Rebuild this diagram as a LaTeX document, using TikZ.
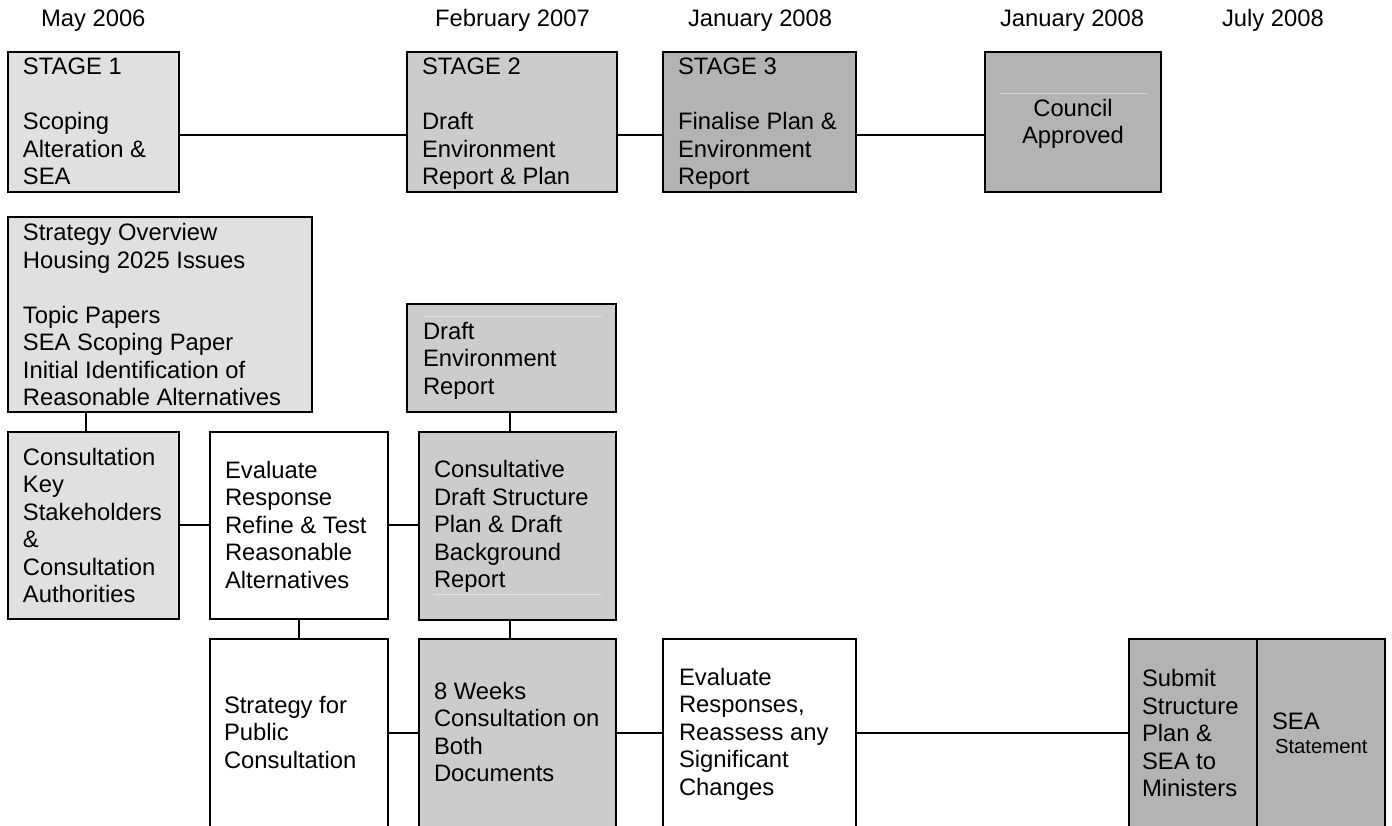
\documentclass[tikz,border=0pt]{standalone}
\usepackage{fontspec}
\setmainfont{Liberation Sans}
\definecolor{gA}{HTML}{E0E0E0}
\definecolor{gB}{HTML}{CCCCCC}
\definecolor{gC}{HTML}{B3B3B3}
\newcommand{\fl}{\rule{0pt}{20pt}}
\newcommand{\mkbox}[6]{\node[box,fill=#6,minimum width={#4-#2},minimum height={#5-#3}] (#1) at (#2,#3) {};}
\tikzset{
  box/.style={draw=black, line width=2pt, rectangle, inner sep=0pt, outer sep=0pt, anchor=north west},
  txt/.style={align=left, inner sep=0pt, outer sep=0pt, anchor=north west, font=\fontsize{23.8}{27.5}\selectfont},
  datetxt/.style={inner sep=0pt, outer sep=0pt, anchor=base west, font=\fontsize{23.8}{27.5}\selectfont},
  conn/.style={line width=2pt, line cap=rect},
  faint/.style={line width=0.8pt},
}
\begin{document}
\begin{tikzpicture}[x=1pt,y=-1pt]
\useasboundingbox (0,0) rectangle (1392,826);
\clip (0,0) rectangle (1392,826);
\fill[white] (0,0) rectangle (1392,826);

% dates
\node[datetxt] (d1) at (41,26.7) {May 2006};
\node[datetxt] (d2) at (435,26.7) {February 2007};
\node[datetxt] (d3) at (688,26.7) {January 2008};
\node[datetxt] (d4) at (1000,26.7) {January 2008};
\node[datetxt] (d5) at (1222,26.7) {July 2008};

% reference coordinates for connector lines
\coordinate (yTop) at (0,135);
\coordinate (yMid) at (0,525);
\coordinate (yLow) at (0,733);
\coordinate (xA) at (86,0);
\coordinate (xB) at (299,0);
\coordinate (xC) at (510,0);

% boxes
\mkbox{st1}{8}{52}{179}{192}{gA}
\mkbox{st2}{407}{52}{617}{192}{gB}
\mkbox{st3}{663}{52}{856}{192}{gC}
\mkbox{cou}{985}{52}{1161}{192}{gC}
\mkbox{sov}{8}{217}{312}{412}{gA}
\mkbox{der}{407}{304}{616}{412}{gB}
\mkbox{ckey}{8}{432}{179}{619}{gA}
\mkbox{evr}{210}{432}{388}{619}{white}
\mkbox{cons}{419}{432}{616}{620}{gB}
\mkbox{spc}{210}{639}{388}{850}{white}
\mkbox{wk}{419}{639}{616}{850}{gB}
\mkbox{evrs}{663}{639}{856}{850}{white}
\mkbox{sub}{1129}{639}{1257}{850}{gC}
\mkbox{seas}{1257}{639}{1385}{850}{gC}

% faint inner lines
\draw[faint, draw=white!45!gC] (999,93) -- (1147,93);
\draw[faint, draw=white!45!gB] (423,316) -- (602,316);
\draw[faint, draw=white!45!gB] (434,594) -- (602,594);

% texts
\node[txt] (st1t) at (23,55) {\fl STAGE 1\\[27.5pt]Scoping\\Alteration \&\\SEA};
\node[txt] (st2t) at (422,55) {\fl STAGE 2\\[27.5pt]Draft\\Environment\\Report \& Plan};
\node[txt] (st3t) at (678,55) {\fl STAGE 3\\[27.5pt]Finalise Plan \&\\Environment\\Report};
\node[txt, align=center, anchor=north] (cout) at (1073,96.3) {\fl Council\\Approved};
\node[txt] (sovt) at (23,220.7) {\fl Strategy Overview\\Housing 2025 Issues\\[27.5pt]Topic Papers\\SEA Scoping Paper\\Initial Identification of\\Reasonable Alternatives};
\node[txt] (dert) at (423,319) {\fl Draft\\Environment\\Report};
\node[txt] (ckeyt) at (23,445) {\fl Consultation\\Key\\Stakeholders\\\&\\Consultation\\Authorities};
\node[txt] (evrt) at (225,458) {\fl Evaluate\\Response\\Refine \& Test\\Reasonable\\Alternatives};
\node[txt] (const) at (434,457.7) {\fl Consultative\\Draft Structure\\Plan \& Draft\\Background\\Report};
\node[txt] (spct) at (224,693.3) {\fl Strategy for\\Public\\Consultation};
\node[txt] (wkt) at (434,679) {\fl 8 Weeks\\Consultation on\\Both\\Documents};
\node[txt] (evrst) at (679,665) {\fl Evaluate\\Responses,\\Reassess any\\Significant\\Changes};
\node[txt] (subt) at (1142,666.5) {\fl Submit\\Structure\\Plan \&\\SEA to\\Ministers};
\node[datetxt] (seat1) at (1272,729) {SEA};
\node[datetxt, font=\fontsize{20.3}{24}\selectfont] (seat2) at (1275,753.3) {Statement};

% connectors
\draw[conn] (st1.east |- yTop) -- (st2.west |- yTop);
\draw[conn] (st2.east |- yTop) -- (st3.west |- yTop);
\draw[conn] (st3.east |- yTop) -- (cou.west |- yTop);
\draw[conn] (sov.south -| xA) -- (ckey.north -| xA);
\draw[conn] (der.south -| xC) -- (cons.north -| xC);
\draw[conn] (ckey.east |- yMid) -- (evr.west |- yMid);
\draw[conn] (evr.east |- yMid) -- (cons.west |- yMid);
\draw[conn] (evr.south -| xB) -- (spc.north -| xB);
\draw[conn] (cons.south -| xC) -- (wk.north -| xC);
\draw[conn] (spc.east |- yLow) -- (wk.west |- yLow);
\draw[conn] (wk.east |- yLow) -- (evrs.west |- yLow);
\draw[conn] (evrs.east |- yLow) -- (sub.west |- yLow);
\end{tikzpicture}
\end{document}
